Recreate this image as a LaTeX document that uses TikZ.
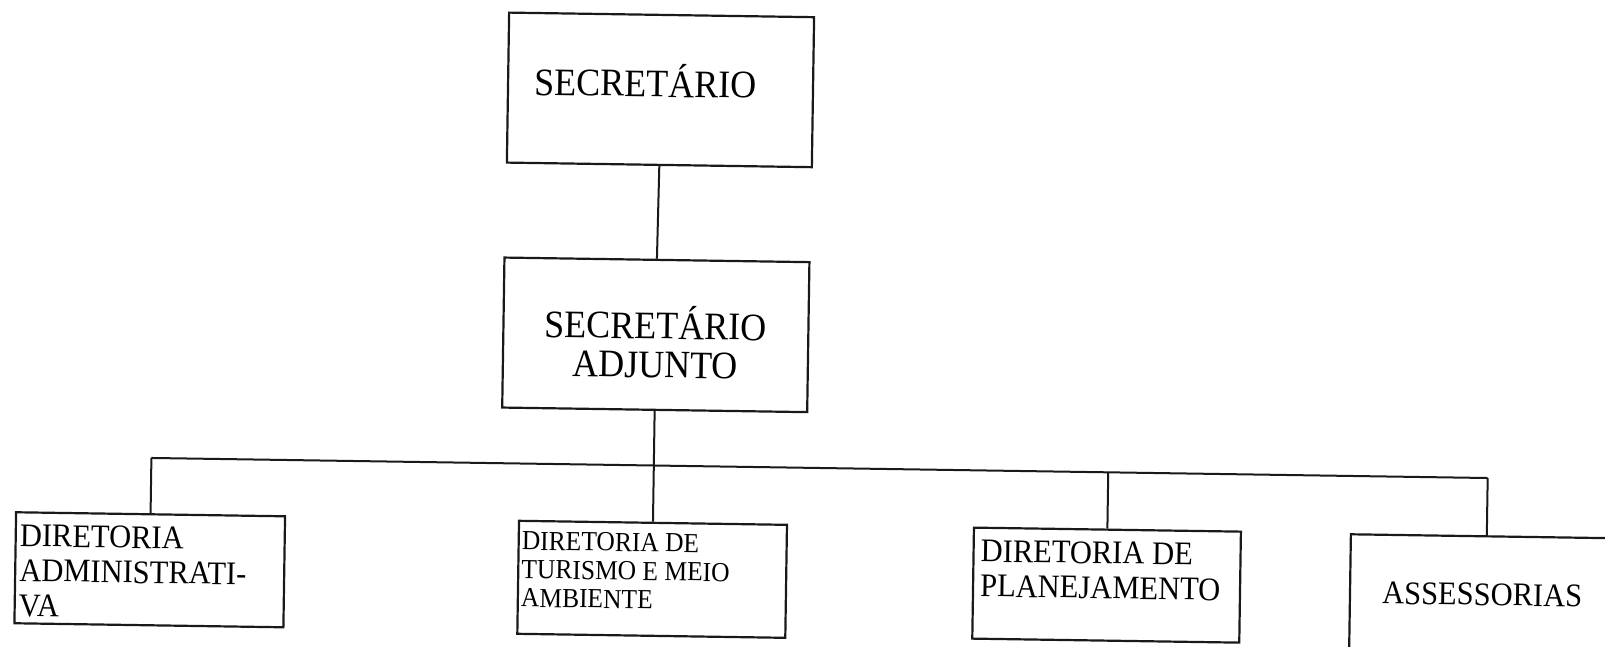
\documentclass[tikz,border=0pt]{standalone}
\usepackage{fontspec}
\setmainfont{Liberation Serif}
\tikzset{
  orgbox/.style={draw=black!90, line width=2.2pt, inner sep=0pt},
  orgline/.style={draw=black!90, line width=2pt},
  lbl/.style={inner sep=0pt, text=black, yscale=1.08},
  lblbig/.style={lbl, font=\fontsize{36}{36.2}\selectfont},
  lblmid/.style={lbl, font=\fontsize{30.5}{32.4}\selectfont},
  lblsmall/.style={lbl, font=\fontsize{25.5}{26.4}\selectfont},
}
\begin{document}
\begin{tikzpicture}[x=1pt,y=-1pt]
  \useasboundingbox (0,0) rectangle (1605,646);
  \clip (0,0) rectangle (1605,646);
  \begin{scope}[rotate around={-0.86:(800,323)}, transform shape]
    % boxes
    \node[orgbox, minimum width=305, minimum height=150] (sec) at (657,92) {};
    \node[orgbox, minimum width=305, minimum height=150] (adj) at (656,337) {};
    \node[orgbox, minimum width=269, minimum height=111] (adm) at (153.5,579.5) {};
    \node[orgbox, minimum width=268, minimum height=113] (tur) at (656,581.5) {};
    \node[orgbox, minimum width=267, minimum height=111] (pla) at (1110.5,580.5) {};
    \node[orgbox, minimum width=272, minimum height=115] (ass) at (1490,583.5) {};
    % texts (base = last line)
    \node[lblbig, anchor=base west] (sect) at (531,99) {SECRETÁRIO};
    \node[lblbig, anchor=base, align=center] (adjt) at (656,380) {SECRETÁRIO\\ADJUNTO};
    \node[lblmid, anchor=base west, align=left] (admt) at (23,628) {DIRETORIA\\ADMINISTRATI-\\VA};
    \node[lblsmall, anchor=base west, align=left] (turt) at (525,611) {DIRETORIA DE\\TURISMO E MEIO\\AMBIENTE};
    \node[lblmid, anchor=base west, align=left] (plat) at (984,594) {DIRETORIA DE\\PLANEJAMENTO};
    \node[lblmid, anchor=base west] (asst) at (1386,595) {ASSESSORIAS};
    % connectors
    \coordinate (jadm) at (153.5,467.7);
    \coordinate (jtur) at (656,467.7);
    \coordinate (jpla) at (1110.5,467.7);
    \coordinate (jass) at (1490,467.7);
    \draw[orgline] (sec.south) -- (adj.north);
    \draw[orgline] (adj.south) -- (jtur) -- (tur.north);
    \draw[orgline] (jadm) -- (jass);
    \draw[orgline] (jadm) -- (adm.north);
    \draw[orgline] (jpla) -- (pla.north);
    \draw[orgline] (jass) -- (ass.north);
  \end{scope}
\end{tikzpicture}
\end{document}
